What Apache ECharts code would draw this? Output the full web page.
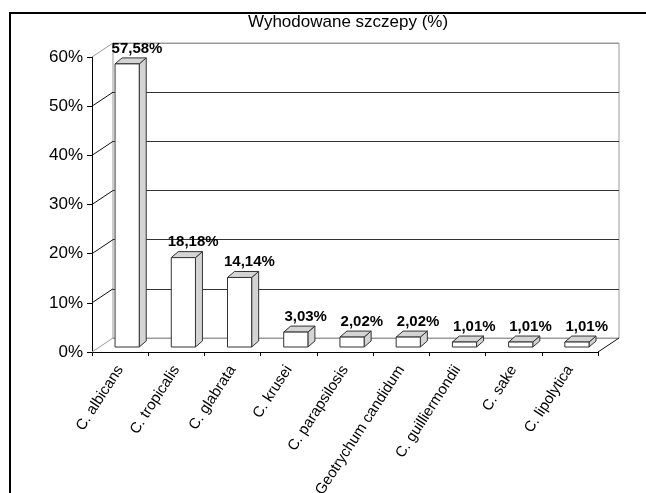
<!DOCTYPE html>
<html>
<head>
<meta charset="utf-8">
<script src="https://cdn.jsdelivr.net/npm/echarts@6/dist/echarts.min.js"></script>
<style>
html,body{margin:0;padding:0;background:#fff;}
#chart{width:646px;height:493px;}
</style>
</head>
<body>
<div id="chart"></div>
<script>
// ---- data ----
const titleText = 'Wyhodowane szczepy (%)';
const categories = ['C. albicans','C. tropicalis','C. glabrata','C. krusei','C. parapsilosis','Geotrychum candidum','C. guilliermondii','C. sake','C. lipolytica'];
const values = [57.58, 18.18, 14.14, 3.03, 2.02, 2.02, 1.01, 1.01, 1.01];
const yTicks = [0, 10, 20, 30, 40, 50, 60];

// ---- layout / style ----
const FONT = "'Liberation Sans', Arial, Helvetica, sans-serif";
const FRONT = {left: 92, top: 57, width: 506, height: 295};
const DX = 21, DY = -14;          // depth of the back wall
const BAR_SHIFT_Y = -5;           // bar front face sits slightly behind the front plane
const BAR_DX = 7, BAR_DY = -6;    // bar depth
const EDGE = '#333';
const GREYLINE = '#9a9a9a';
const FACE = '#d4d4d4';

function fmt(v){ return v.toFixed(2).replace('.', ',') + '%'; }

const chart = echarts.init(document.getElementById('chart'), null, {renderer: 'canvas'});

function renderBar(params, api){
  const i = api.value(0), v = api.value(1);
  const base = api.coord([i, 0]);
  const top = api.coord([i, v]);
  const band = api.size([1, 0])[0];
  const x0 = base[0] - band * 0.09;
  const x1 = base[0] + band * 0.34;
  const yb = base[1] + BAR_SHIFT_Y;
  const yt = top[1] + BAR_SHIFT_Y;
  const st = {stroke: EDGE, lineWidth: 1};
  return {
    type: 'group',
    children: [
      {type: 'polygon', shape: {points: [[x1, yb], [x1 + BAR_DX, yb + BAR_DY], [x1 + BAR_DX, yt + BAR_DY], [x1, yt]]},
       style: Object.assign({fill: FACE}, st)},
      {type: 'polygon', shape: {points: [[x0, yt], [x0 + BAR_DX, yt + BAR_DY], [x1 + BAR_DX, yt + BAR_DY], [x1, yt]]},
       style: Object.assign({fill: FACE}, st)},
      {type: 'rect', shape: {x: x0, y: yt, width: x1 - x0, height: yb - yt},
       style: Object.assign({fill: '#fff'}, st)},
      {type: 'text', x: base[0] + band * 0.3, y: yt + BAR_DY - 2,
       style: {text: fmt(v), fill: '#000', font: 'bold 15px ' + FONT, align: 'center', verticalAlign: 'bottom'}}
    ]
  };
}

function renderWallDiag(params, api){
  const t = api.value(1);
  const p = api.coord([0, t]);
  const band = api.size([1, 0])[0];
  const x = p[0] - band / 2;
  const isEdge = (t === yTicks[0] || t === yTicks[yTicks.length - 1]);
  return {type: 'line', shape: {x1: x, y1: p[1], x2: x + DX, y2: p[1] + DY},
          style: {stroke: isEdge ? GREYLINE : '#111', lineWidth: 1}};
}

function renderFloorRight(params, api){
  const p = api.coord([api.value(0), 0]);
  const band = api.size([1, 0])[0];
  const x = p[0] + band / 2;
  return {type: 'line', shape: {x1: x, y1: p[1], x2: x + DX, y2: p[1] + DY},
          style: {stroke: '#111', lineWidth: 1}};
}

const splitColors = yTicks.map((t, k) => (k === 0 || k === yTicks.length - 1) ? GREYLINE : '#333');

const option = {
  animation: false,
  backgroundColor: '#fff',
  title: {
    text: titleText, left: 248, top: 14, padding: 0,
    textStyle: {fontSize: 17, fontWeight: 'normal', color: '#000', fontFamily: FONT}
  },
  graphic: [
    {type: 'rect', shape: {x: 10, y: 13, width: 1000, height: 1000},
     style: {fill: 'none', stroke: '#000', lineWidth: 2}, silent: true, z: 100}
  ],
  grid: [
    {left: FRONT.left, top: FRONT.top, width: FRONT.width, height: FRONT.height,
     containLabel: false, outerBoundsMode: 'none'},
    {left: FRONT.left + DX, top: FRONT.top + DY, width: FRONT.width, height: FRONT.height,
     containLabel: false, outerBoundsMode: 'none',
     show: true, borderColor: GREYLINE, borderWidth: 1, backgroundColor: 'transparent'}
  ],
  xAxis: [
    {type: 'category', gridIndex: 0, data: categories, boundaryGap: true,
     axisLine: {show: true, lineStyle: {color: '#000', width: 1}},
     axisTick: {show: true, length: 4, interval: 0, lineStyle: {color: '#000'}},
     axisLabel: {interval: 0, rotate: 57, fontSize: 15, color: '#000', fontFamily: FONT, margin: 15},
     splitLine: {show: false}},
    {type: 'category', gridIndex: 1, data: categories, show: false}
  ],
  yAxis: [
    {type: 'value', gridIndex: 0, min: 0, max: 60, interval: 10,
     axisLine: {show: true, lineStyle: {color: '#000', width: 1}},
     axisTick: {show: true, length: 5, lineStyle: {color: '#000'}},
     axisLabel: {formatter: '{value}%', fontSize: 17, color: '#000', fontFamily: FONT, margin: 9},
     splitLine: {show: false}},
    {type: 'value', gridIndex: 1, min: 0, max: 60, interval: 10,
     axisLine: {show: false}, axisTick: {show: false}, axisLabel: {show: false},
     splitLine: {show: true, lineStyle: {color: splitColors, width: 1}}}
  ],
  series: [
    {type: 'custom', xAxisIndex: 0, yAxisIndex: 0, clip: false, z: 3,
     data: yTicks.map(t => [0, t]), renderItem: renderWallDiag, silent: true},
    {type: 'custom', xAxisIndex: 0, yAxisIndex: 0, clip: false, z: 3,
     data: [[categories.length - 1, 0]], renderItem: renderFloorRight, silent: true},
    {type: 'custom', xAxisIndex: 0, yAxisIndex: 0, clip: false, z: 4,
     data: values.map((v, i) => [i, v]), renderItem: renderBar, silent: true}
  ]
};
chart.setOption(option);
</script>
</body>
</html>
